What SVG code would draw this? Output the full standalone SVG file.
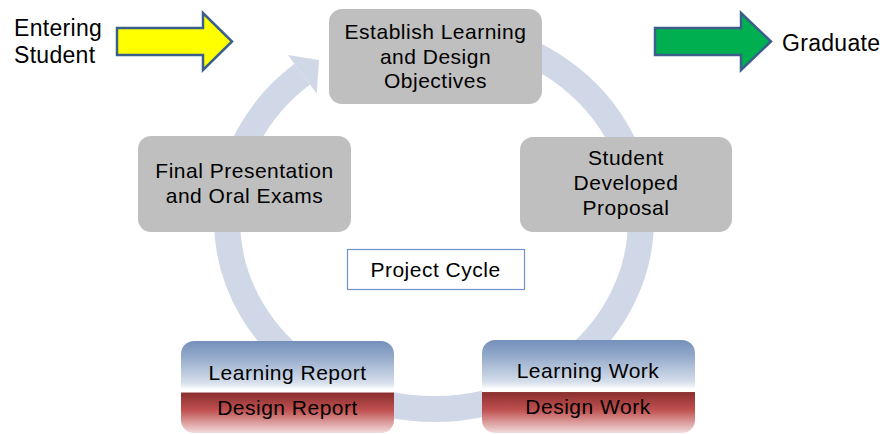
<svg xmlns="http://www.w3.org/2000/svg" width="884" height="434" viewBox="0 0 884 434">
  <style>
    .node { fill: #BFBFBF; }
    .t { font-family: "Liberation Sans", Arial, sans-serif; font-size: 21px; letter-spacing: 0.5px; fill: #000; text-anchor: middle; }
    .side { font-family: "Liberation Sans", Arial, sans-serif; font-size: 23px; letter-spacing: 0.3px; fill: #000; }
    .ring { fill: none; stroke: #D0D8E8; stroke-width: 26; }
    .ringhead { fill: #D0D8E8; }
    .blk { stroke: #3A5F8C; stroke-width: 2.5; stroke-linejoin: miter; }
  </style>
  <defs>
    <linearGradient id="split" x1="0" y1="0" x2="0" y2="1">
      <stop offset="0" stop-color="#7490BB"/>
      <stop offset="0.15" stop-color="#8FA6C8"/>
      <stop offset="0.45" stop-color="#D5DEEB"/>
      <stop offset="0.53" stop-color="#FFFFFF"/>
      <stop offset="0.555" stop-color="#FFFFFF"/>
      <stop offset="0.565" stop-color="#8B2F2F"/>
      <stop offset="0.75" stop-color="#C05050"/>
      <stop offset="1" stop-color="#F2DCDC"/>
    </linearGradient>
  </defs>

  <g id="connectors">
    <path class="ring" d="M469.9,33.9 A207,189 0 1 1 302.3,74.2"/>
    <polygon class="ringhead" points="287.9,55 316.7,93.4 319,60"/>
  </g>

  <g id="entering">
    <path class="blk" fill="#FFFF00" d="M117,28 H203 V13 L232,41.5 L203,70 V55 H117 Z"/>
    <text class="side" x="14" y="36">Entering</text>
    <text class="side" x="14" y="63">Student</text>
  </g>

  <g id="graduate">
    <path class="blk" fill="#00B050" d="M655,28 H741 V13 L771,41.5 L741,70 V55 H655 Z"/>
    <text class="side" x="782" y="51">Graduate</text>
  </g>

  <g id="node-objectives">
    <rect class="node" x="329" y="9" width="213" height="95" rx="13"/>
    <text class="t" x="435.5" y="39">Establish Learning</text>
    <text class="t" x="435.5" y="63.5">and Design</text>
    <text class="t" x="435.5" y="88">Objectives</text>
  </g>

  <g id="node-proposal">
    <rect class="node" x="520" y="137" width="212" height="95" rx="13"/>
    <text class="t" x="626" y="165">Student</text>
    <text class="t" x="626" y="190">Developed</text>
    <text class="t" x="626" y="215">Proposal</text>
  </g>

  <g id="node-final">
    <rect class="node" x="138" y="136" width="213" height="96" rx="13"/>
    <text class="t" x="244.5" y="178">Final Presentation</text>
    <text class="t" x="244.5" y="202.5">and Oral Exams</text>
  </g>

  <g id="node-report">
    <rect x="181" y="341" width="213" height="92" rx="13" fill="url(#split)"/>
    <text class="t" x="287.5" y="380">Learning Report</text>
    <text class="t" x="287.5" y="415">Design Report</text>
  </g>

  <g id="node-work">
    <rect x="482" y="340" width="213" height="93" rx="13" fill="url(#split)"/>
    <text class="t" x="588" y="378">Learning Work</text>
    <text class="t" x="588" y="414">Design Work</text>
  </g>

  <g id="label-cycle">
    <rect x="347.5" y="249.5" width="177" height="40" fill="#FFFFFF" stroke="#6F93C8" stroke-width="1.2"/>
    <text class="t" x="435.5" y="277">Project Cycle</text>
  </g>
</svg>
